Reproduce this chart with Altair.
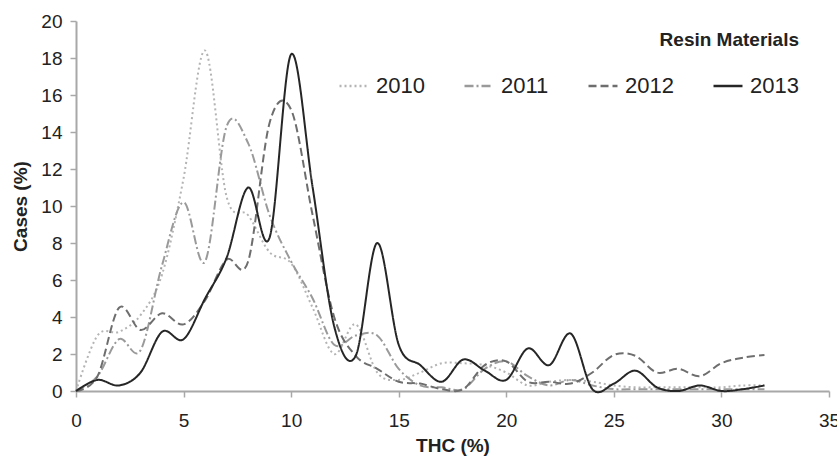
import altair as alt
import pandas as pd

# THC content (%) sampled at whole percentages
thc = list(range(0, 33))

cases_2010 = [0, 3.0, 3.2, 4.1, 6.3, 11.5, 18.4, 10.5, 9.5, 7.5, 6.9, 4.5, 2.0, 3.6, 1.0,
              0.6, 1.0, 1.5, 1.5, 1.4, 1.0, 0.3, 0.5, 0.6, 0.5, 0.3, 0.2, 0.2, 0.2, 0.2,
              0.2, 0.3, 0.3]
cases_2011 = [0, 0.8, 2.8, 2.2, 6.8, 10.2, 7.0, 14.3, 13.4, 9.5, 7.0, 5.0, 2.5, 3.0, 3.0,
              1.2, 0.3, 0.2, 0.1, 1.2, 1.6, 0.8, 0.3, 0.6, 0.3, 0.1, 0.1, 0.1, 0.1, 0.1,
              0.1, 0.1, 0.1]
cases_2012 = [0, 0.8, 4.5, 3.3, 4.2, 3.6, 4.9, 7.1, 7.0, 14.5, 15.2, 9.5, 4.0, 1.9, 1.2,
              0.5, 0.4, 0.1, 0.1, 1.4, 1.6, 0.5, 0.5, 0.4, 1.0, 1.95, 1.9, 1.0, 1.2, 0.8,
              1.5, 1.8, 1.95]
cases_2013 = [0, 0.6, 0.3, 1.0, 3.2, 2.8, 5.0, 7.2, 11.0, 8.3, 18.2, 11.0, 3.5, 1.9, 8.0,
              2.5, 1.4, 0.5, 1.7, 1.1, 0.6, 2.3, 1.4, 3.1, 0.1, 0.4, 1.1, 0.2, 0.0, 0.3,
              0.0, 0.1, 0.3]

years = ["2010", "2011", "2012", "2013"]
series = [cases_2010, cases_2011, cases_2012, cases_2013]

rows = []
for year, values in zip(years, series):
    for t, v in zip(thc, values):
        rows.append({"THC": t, "Cases": v, "Year": year})
df = pd.DataFrame(rows)

font = "Liberation Sans"
line_colors = ["#b4b4b4", "#9a9a9a", "#6e6e6e", "#262626"]
line_dashes = [[2, 3], [9, 3, 2, 3], [8, 4], [1, 0]]

legend = alt.Legend(
    title="Resin Materials",
    orient="none",
    legendX=262,
    legendY=10,
    direction="horizontal",
    columns=4,
    titleAnchor="end",
    titleFont=font,
    titleFontSize=19,
    titleFontWeight="bold",
    titleColor="#222",
    titlePadding=20,
    labelFont=font,
    labelFontSize=22,
    labelColor="#222",
    labelOffset=6,
    symbolType="stroke",
    symbolSize=840,
    symbolStrokeWidth=2.5,
    columnPadding=34,
)

chart = (
    alt.Chart(df)
    .mark_line(interpolate="cardinal", strokeWidth=2)
    .encode(
        x=alt.X(
            "THC:Q",
            title="THC (%)",
            scale=alt.Scale(domain=[0, 35], nice=False),
            axis=alt.Axis(values=list(range(0, 36, 5)), labelFlush=False),
        ),
        y=alt.Y(
            "Cases:Q",
            title="Cases (%)",
            scale=alt.Scale(domain=[0, 20], nice=False),
            axis=alt.Axis(values=list(range(0, 21, 2)), labelFlush=False),
        ),
        color=alt.Color(
            "Year:N",
            scale=alt.Scale(domain=years, range=line_colors),
            legend=legend,
        ),
        strokeDash=alt.StrokeDash(
            "Year:N",
            scale=alt.Scale(domain=years, range=line_dashes),
            legend=legend,
        ),
    )
    .properties(
        width=753,
        height=370,
        autosize=alt.AutoSizeParams(type="none"),
        padding={"left": 76, "top": 21, "right": 8, "bottom": 72},
    )
    .configure_view(stroke=None)
    .configure_axis(
        grid=False,
        domainColor="#a8a8a8",
        domainWidth=2,
        tickColor="#a8a8a8",
        tickWidth=1.5,
        tickSize=6,
        labelFont=font,
        labelFontSize=19,
        labelColor="#222",
        titleFont=font,
        titleFontSize=19,
        titleFontWeight="bold",
        titleColor="#222",
    )
    .configure_axisX(labelPadding=14, titlePadding=6)
    .configure_axisY(labelPadding=8, titlePadding=10)
)

chart.save("out.html", embed_options={"renderer": "svg", "actions": False})
